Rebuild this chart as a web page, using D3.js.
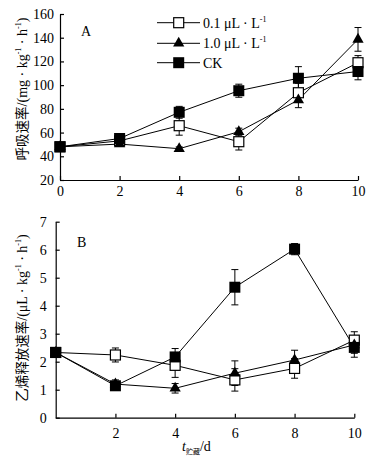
<!DOCTYPE html>
<html><head><meta charset="utf-8">
<script src="https://cdn.jsdelivr.net/npm/d3@7"></script>
<style>
body{margin:0;background:#fff;}
svg text{font-family:"Liberation Serif","Times New Roman","Noto Sans CJK SC",serif;fill:#000;}
</style></head>
<body>
<svg id="c" width="371" height="462"></svg>
<script>
// ---- data ----
const days = [0, 2, 4, 6, 8, 10];
const seriesNames = ["0.1 μL · L", "1.0 μL · L", "CK"];
const seriesSup = ["-1", "-1", ""];
const seriesMarkers = ["openSquare", "triangle", "square"];

// Panel A: respiration rate
const respLow = [48, 53, 65.8, 52.3, 93.6, 118.9];
const respLowErr = [0, 2, 8, 7, 8, 6];
const respHigh = [48, 50.3, 46.4, 60.7, 87.5, 138.6];
const respHighErr = [0, 1.5, 1.5, 3, 6.5, 10];
const respCK = [48, 55, 77.1, 95.3, 105.8, 111.5];
const respCKErr = [0, 2, 5, 5.5, 9.8, 7];

// Panel B: ethylene release rate
const ethLow = [2.33, 2.24, 1.87, 1.35, 1.76, 2.77];
const ethLowErr = [0, 0.25, 0.43, 0.4, 0.35, 0.3];
const ethHigh = [2.33, 1.2, 1.05, 1.59, 2.06, 2.6];
const ethHighErr = [0, 0.15, 0.17, 0.44, 0.35, 0.3];
const ethCK = [2.33, 1.14, 2.17, 4.66, 6.02, 2.51];
const ethCKErr = [0, 0.1, 0.3, 0.63, 0.2, 0.35];

const respTicksX = [0, 2, 4, 6, 8, 10];
const respTicksY = [20, 40, 60, 80, 100, 120, 140, 160];
const ethTicksX = [2, 4, 6, 8, 10];
const ethTicksY = [0, 1, 2, 3, 4, 5, 6, 7];

const svg = d3.select("#c");

function drawMarker(g, type, x, y) {
  if (type === "square") {
    g.append("rect").attr("x", x - 5.5).attr("y", y - 5.5).attr("width", 11).attr("height", 11)
      .attr("fill", "#000");
  } else if (type === "openSquare") {
    g.append("rect").attr("x", x - 5).attr("y", y - 5).attr("width", 10).attr("height", 10)
      .attr("fill", "#fff").attr("stroke", "#000").attr("stroke-width", 1.2);
  } else {
    g.append("path").attr("d", d3.symbol().type(d3.symbolTriangle).size(55)())
      .attr("transform", `translate(${x},${y})`).attr("fill", "#000");
  }
}

function panel(cfg) {
  const x = d3.scaleLinear().domain([0, 10]).range(cfg.xr);
  const y = d3.scaleLinear().domain(cfg.yd).range(cfg.yr);
  const g = svg.append("g");
  const ax = g.append("g").attr("transform", `translate(0,${cfg.yr[0]})`)
    .call(d3.axisBottom(x).tickValues(cfg.tx).tickSize(-4).tickSizeOuter(0).tickPadding(cfg.padX).tickFormat(d3.format("d")));
  const ay = g.append("g").attr("transform", `translate(${cfg.xr[0]},0)`)
    .call(d3.axisLeft(y).tickValues(cfg.ty).tickSize(-4).tickSizeOuter(0).tickPadding(cfg.padY).tickFormat(d3.format("d")));
  [ax, ay].forEach(a => {
    a.select(".domain").attr("stroke", "#000").attr("stroke-width", 1.2);
    a.selectAll(".tick line").attr("stroke", "#000").attr("stroke-width", 1.2);
    a.selectAll("text").attr("font-size", 14).attr("font-family", "Liberation Serif");
  });
  const series = cfg.series;
  const line = d3.line().x((d, i) => x(days[i])).y(d => y(d));
  series.forEach(s => {
    g.append("path").datum(s.v).attr("d", line).attr("fill", "none")
      .attr("stroke", "#000").attr("stroke-width", 1);
  });
  series.forEach(s => {
    s.v.forEach((v, i) => {
      const e = s.e[i];
      if (e > 0) {
        const cx = x(days[i]);
        g.append("line").attr("x1", cx).attr("x2", cx).attr("y1", y(v - e)).attr("y2", y(v + e))
          .attr("stroke", "#000").attr("stroke-width", 1);
        [v - e, v + e].forEach(w => g.append("line").attr("x1", cx - 3.5).attr("x2", cx + 3.5)
          .attr("y1", y(w)).attr("y2", y(w)).attr("stroke", "#000").attr("stroke-width", 1));
      }
    });
  });
  series.forEach(s => {
    s.v.forEach((v, i) => drawMarker(g, s.m, x(days[i]), y(v)));
  });
  g.append("text").attr("x", cfg.letterPos[0]).attr("y", cfg.letterPos[1]).attr("font-size", 14).text(cfg.letter);
  return { x, y };
}

panel({
  xr: [60, 358], yd: [20, 160], yr: [180, 14], tx: respTicksX, ty: respTicksY, padX: 6, padY: 6,
  letter: "A", letterPos: [81, 36],
  series: [
    { v: respLow, e: respLowErr, m: "openSquare" },
    { v: respHigh, e: respHighErr, m: "triangle" },
    { v: respCK, e: respCKErr, m: "square" }
  ]
});
panel({
  xr: [55.7, 354.3], yd: [0, 7], yr: [417.7, 221.7], tx: ethTicksX, ty: ethTicksY, padX: 10, padY: 9,
  letter: "B", letterPos: [77, 247],
  series: [
    { v: ethLow, e: ethLowErr, m: "openSquare" },
    { v: ethHigh, e: ethHighErr, m: "triangle" },
    { v: ethCK, e: ethCKErr, m: "square" }
  ]
});

// legend
const leg = svg.append("g");
const legY = [22.7, 43.3, 62.7];
seriesNames.forEach((n, i) => {
  leg.append("line").attr("x1", 157).attr("x2", 200).attr("y1", legY[i]).attr("y2", legY[i])
    .attr("stroke", "#000").attr("stroke-width", 1);
  drawMarker(leg, seriesMarkers[i], 178.7, legY[i]);
  const t = leg.append("text").attr("x", 203).attr("y", legY[i] + 5).attr("font-size", 14);
  t.append("tspan").text(n);
  if (seriesSup[i]) t.append("tspan").attr("font-size", 8).attr("dy", -6).text(seriesSup[i]);
});

// axis titles
function vtitle(cx, cy, parts) {
  const t = svg.append("text").attr("transform", `translate(${cx},${cy}) rotate(-90)`)
    .attr("text-anchor", "middle").attr("font-size", 14);
  parts.forEach(p => {
    const s = t.append("tspan").text(p.t);
    if (p.sup) { s.attr("font-size", 8).attr("dy", -6); }
    else if (p.back) { s.attr("dy", 6); }
    if (p.cjk) s.attr("font-family", "Noto Sans CJK SC").attr("font-size", 13.5);
  });
}
vtitle(27, 89, [
  { t: "呼吸速率", cjk: true }, { t: "/(mg · kg" }, { t: "-1", sup: true },
  { t: " · h", back: true }, { t: "-1", sup: true }, { t: ")", back: true }
]);
vtitle(27, 318, [
  { t: "乙烯释放速率", cjk: true }, { t: "/(μL · kg" }, { t: "-1", sup: true },
  { t: " · h", back: true }, { t: "-1", sup: true }, { t: ")", back: true }
]);

const xt = svg.append("text").attr("x", 182).attr("y", 451).attr("font-size", 14);
xt.append("tspan").attr("font-style", "italic").text("t");
xt.append("tspan").attr("font-size", 7).attr("dy", 3).attr("font-family", "Noto Sans CJK SC").text("贮藏");
xt.append("tspan").attr("dy", -3).text("/d");
</script>
</body></html>
